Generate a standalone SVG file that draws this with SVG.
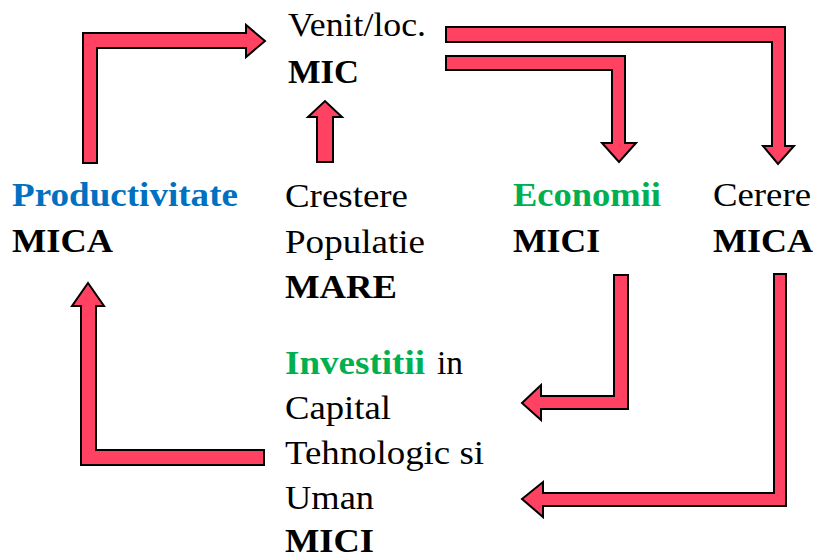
<svg xmlns="http://www.w3.org/2000/svg" width="818" height="555" viewBox="0 0 818 555">
<style>
text{font-family:"Liberation Serif","Times New Roman",serif;font-size:34px;fill:#000}
.b{font-weight:bold}
.blue{fill:#0070C0}
.green{fill:#00B050}
.arr{fill:#FF4261;stroke:#000;stroke-width:2;stroke-linejoin:miter}
</style>
<rect width="818" height="555" fill="#fff"/>
<g id="connectors">
<path class="arr" d="M83,163 L83,33 L246,33 L246,25 L265,41 L246,57 L246,48 L97,48 L97,163 Z"/>
<path class="arr" d="M446,27 L785,27 L785,146 L794,146 L778,164 L763,146 L772,146 L772,42 L446,42 Z"/>
<path class="arr" d="M446,56 L625,56 L625,143 L636,143 L619,162 L602,143 L612,143 L612,70 L446,70 Z"/>
<path class="arr" d="M614,275 L628,275 L628,409 L541,409 L541,420 L522,403 L541,385 L541,396 L614,396 Z"/>
<path class="arr" d="M774,274 L786,274 L786,506 L543,506 L543,517 L522,499 L543,482 L543,493 L774,493 Z"/>
<path class="arr" d="M81,465 L81,306 L72,306 L88,283 L104,306 L96,306 L96,450 L264,450 L264,465 Z"/>
<path class="arr" d="M317,162 L317,117 L308,117 L325,101 L342,117 L333,117 L333,162 Z"/>
</g>
<g id="node-venit">
<text x="288" y="36" textLength="138" lengthAdjust="spacingAndGlyphs">Venit/loc.</text>
<text x="288" y="83" class="b" textLength="71" lengthAdjust="spacingAndGlyphs">MIC</text>
</g>
<g id="node-productivitate">
<text x="12" y="206" class="b blue" textLength="226" lengthAdjust="spacingAndGlyphs">Productivitate</text>
<text x="12" y="252" class="b" textLength="101" lengthAdjust="spacingAndGlyphs">MICA</text>
</g>
<g id="node-populatie">
<text x="285" y="207" textLength="123" lengthAdjust="spacingAndGlyphs">Crestere</text>
<text x="285" y="253" textLength="140" lengthAdjust="spacingAndGlyphs">Populatie</text>
<text x="285" y="298" class="b" textLength="112" lengthAdjust="spacingAndGlyphs">MARE</text>
</g>
<g id="node-economii">
<text x="513" y="206" class="b green" textLength="148" lengthAdjust="spacingAndGlyphs">Economii</text>
<text x="513" y="252" class="b" textLength="87" lengthAdjust="spacingAndGlyphs">MICI</text>
</g>
<g id="node-cerere">
<text x="713" y="206" textLength="98" lengthAdjust="spacingAndGlyphs">Cerere</text>
<text x="713" y="252" class="b" textLength="100" lengthAdjust="spacingAndGlyphs">MICA</text>
</g>
<g id="node-investitii">
<text x="285" y="374" class="b green" textLength="140" lengthAdjust="spacingAndGlyphs">Investitii</text>
<text x="437" y="374" textLength="26" lengthAdjust="spacingAndGlyphs">in</text>
<text x="285" y="419" textLength="106" lengthAdjust="spacingAndGlyphs">Capital</text>
<text x="285" y="464" textLength="199" lengthAdjust="spacingAndGlyphs">Tehnologic si</text>
<text x="285" y="509" textLength="89" lengthAdjust="spacingAndGlyphs">Uman</text>
<text x="285" y="552" class="b" textLength="89" lengthAdjust="spacingAndGlyphs">MICI</text>
</g>
</svg>
